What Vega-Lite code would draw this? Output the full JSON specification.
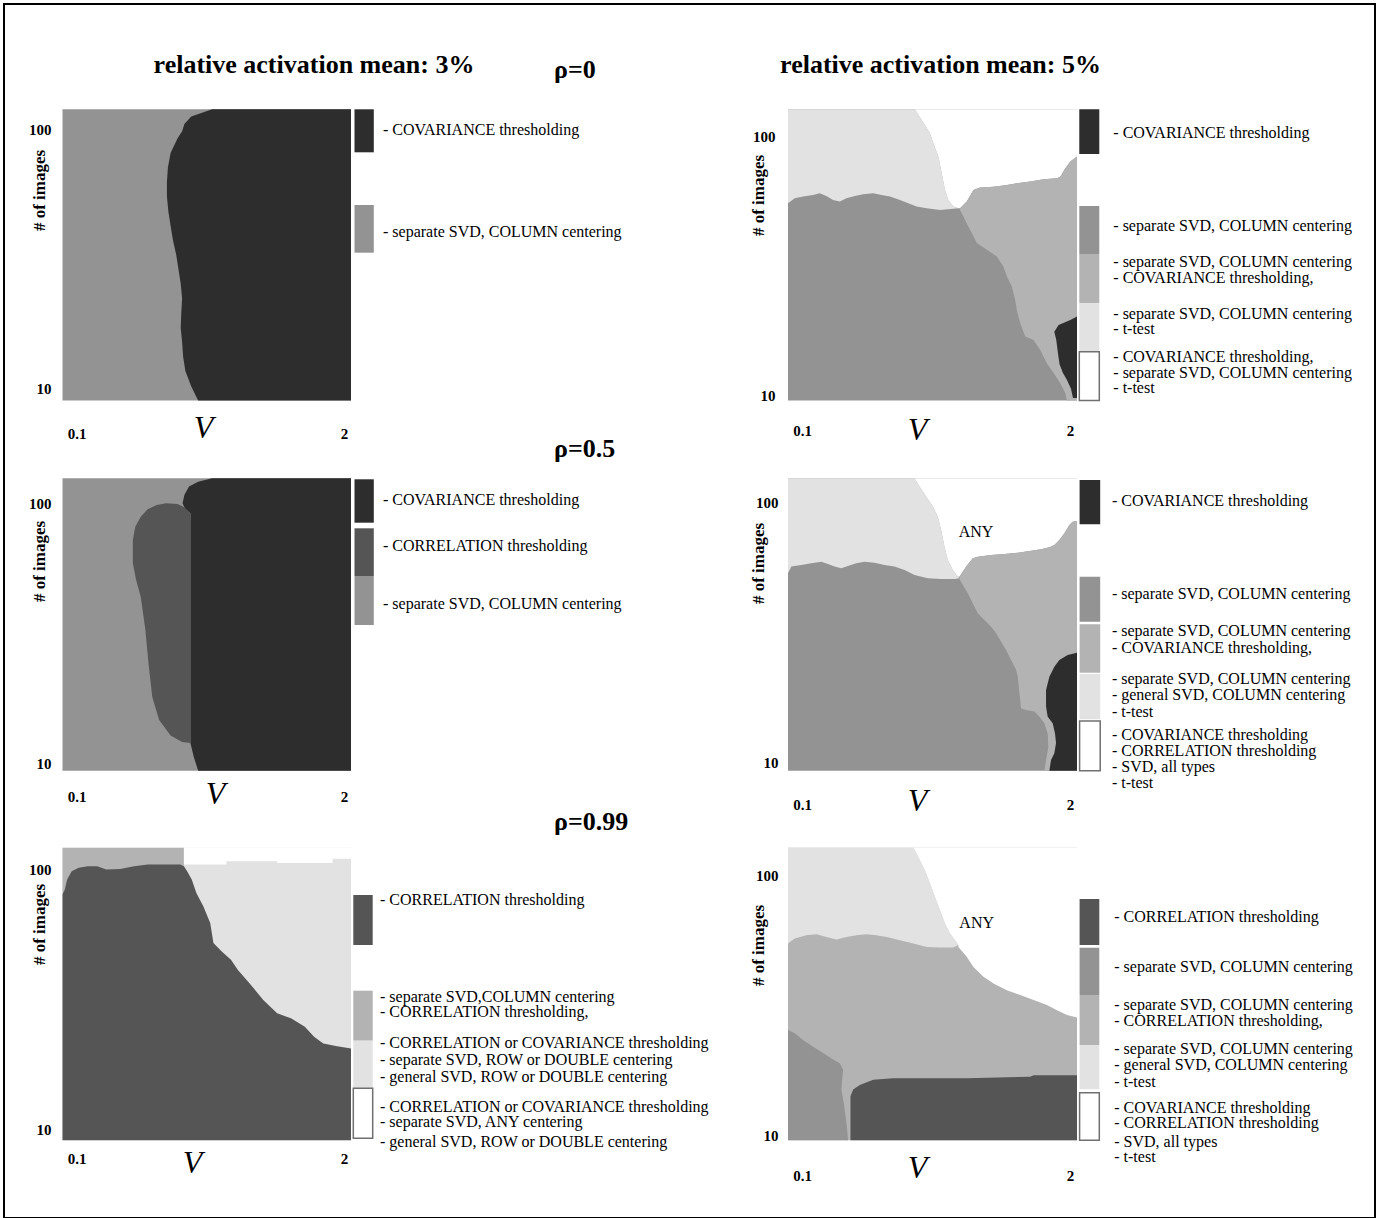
{
"$schema": "https://vega.github.io/schema/vega-lite/v6.json",
"width": 1371,
"height": 1214,
"autosize": {"type": "none"},
"padding": {"left": 4, "top": 4, "right": 15, "bottom": 0},
"background": "white",
"config": {"view": {"stroke": "#000000", "strokeWidth": 2}, "axis": {"zindex": 1}},
"datasets": {
"tl": [
{"p":"base","m":"SVD","i":0,"V":0,"n":120},{"p":"base","m":"SVD","i":1,"V":2.05,"n":120},{"p":"base","m":"SVD","i":2,"V":2.05,"n":9},{"p":"base","m":"SVD","i":3,"V":0,"n":9},
{"p":"cov","m":"COVARIANCE","i":0,"V":1.063,"n":120},{"p":"cov","m":"COVARIANCE","i":1,"V":0.915,"n":112.5},{"p":"cov","m":"COVARIANCE","i":2,"V":0.866,"n":105.4},{"p":"cov","m":"COVARIANCE","i":3,"V":0.85,"n":98.8},{"p":"cov","m":"COVARIANCE","i":4,"V":0.817,"n":92.6},{"p":"cov","m":"COVARIANCE","i":5,"V":0.768,"n":81.4},{"p":"cov","m":"COVARIANCE","i":6,"V":0.749,"n":71.5},{"p":"cov","m":"COVARIANCE","i":7,"V":0.742,"n":62.8},{"p":"cov","m":"COVARIANCE","i":8,"V":0.742,"n":55.2},{"p":"cov","m":"COVARIANCE","i":9,"V":0.752,"n":48.5},{"p":"cov","m":"COVARIANCE","i":10,"V":0.768,"n":42.6},{"p":"cov","m":"COVARIANCE","i":11,"V":0.785,"n":37.4},{"p":"cov","m":"COVARIANCE","i":12,"V":0.808,"n":32.9},{"p":"cov","m":"COVARIANCE","i":13,"V":0.824,"n":28.9},{"p":"cov","m":"COVARIANCE","i":14,"V":0.84,"n":25.4},{"p":"cov","m":"COVARIANCE","i":15,"V":0.85,"n":22.3},{"p":"cov","m":"COVARIANCE","i":16,"V":0.844,"n":19.6},{"p":"cov","m":"COVARIANCE","i":17,"V":0.84,"n":17.2},{"p":"cov","m":"COVARIANCE","i":18,"V":0.85,"n":15.1},{"p":"cov","m":"COVARIANCE","i":19,"V":0.857,"n":13.3},{"p":"cov","m":"COVARIANCE","i":20,"V":0.873,"n":11.7},{"p":"cov","m":"COVARIANCE","i":21,"V":0.915,"n":10.2},{"p":"cov","m":"COVARIANCE","i":22,"V":0.964,"n":9},{"p":"cov","m":"COVARIANCE","i":23,"V":2.05,"n":9},{"p":"cov","m":"COVARIANCE","i":24,"V":2.05,"n":120}
],
"ml": [
{"p":"base","m":"SVD","i":0,"V":0,"n":120},{"p":"base","m":"SVD","i":1,"V":2.05,"n":120},{"p":"base","m":"SVD","i":2,"V":2.05,"n":9},{"p":"base","m":"SVD","i":3,"V":0,"n":9},
{"p":"cov","m":"COVARIANCE","i":0,"V":1.063,"n":120},{"p":"cov","m":"COVARIANCE","i":1,"V":0.964,"n":116.5},{"p":"cov","m":"COVARIANCE","i":2,"V":0.899,"n":111.5},{"p":"cov","m":"COVARIANCE","i":3,"V":0.866,"n":103.5},{"p":"cov","m":"COVARIANCE","i":4,"V":0.853,"n":96.2},{"p":"cov","m":"COVARIANCE","i":5,"V":0.873,"n":91.2},{"p":"cov","m":"COVARIANCE","i":6,"V":0.909,"n":88},{"p":"cov","m":"COVARIANCE","i":7,"V":0.909,"n":11.5},{"p":"cov","m":"COVARIANCE","i":8,"V":0.932,"n":10.2},{"p":"cov","m":"COVARIANCE","i":9,"V":0.964,"n":9},{"p":"cov","m":"COVARIANCE","i":10,"V":2.05,"n":9},{"p":"cov","m":"COVARIANCE","i":11,"V":2.05,"n":120},
{"p":"corr","m":"CORRELATION","i":0,"V":0.736,"n":96.2},{"p":"corr","m":"CORRELATION","i":1,"V":0.67,"n":94.8},{"p":"corr","m":"CORRELATION","i":2,"V":0.605,"n":91.2},{"p":"corr","m":"CORRELATION","i":3,"V":0.556,"n":85.4},{"p":"corr","m":"CORRELATION","i":4,"V":0.517,"n":78.2},{"p":"corr","m":"CORRELATION","i":5,"V":0.5,"n":69.5},{"p":"corr","m":"CORRELATION","i":6,"V":0.5,"n":56.5},{"p":"corr","m":"CORRELATION","i":7,"V":0.523,"n":48.7},{"p":"corr","m":"CORRELATION","i":8,"V":0.556,"n":42},{"p":"corr","m":"CORRELATION","i":9,"V":0.589,"n":31.3},{"p":"corr","m":"CORRELATION","i":10,"V":0.611,"n":23.3},{"p":"corr","m":"CORRELATION","i":11,"V":0.638,"n":17.3},{"p":"corr","m":"CORRELATION","i":12,"V":0.687,"n":14.1},{"p":"corr","m":"CORRELATION","i":13,"V":0.768,"n":12.3},{"p":"corr","m":"CORRELATION","i":14,"V":0.85,"n":11.6},{"p":"corr","m":"CORRELATION","i":15,"V":0.909,"n":11.5},{"p":"corr","m":"CORRELATION","i":16,"V":0.909,"n":88},{"p":"corr","m":"CORRELATION","i":17,"V":0.866,"n":92.8},{"p":"corr","m":"CORRELATION","i":18,"V":0.817,"n":95.6}
],
"bl": [
{"p":"base","m":"three","i":0,"V":0,"n":120},{"p":"base","m":"three","i":1,"V":2.05,"n":120},{"p":"base","m":"three","i":2,"V":2.05,"n":9},{"p":"base","m":"three","i":3,"V":0,"n":9},
{"p":"two","m":"two","i":0,"V":0,"n":120},{"p":"two","m":"two","i":1,"V":0.8626,"n":120},{"p":"two","m":"two","i":2,"V":0.8626,"n":79},{"p":"two","m":"two","i":3,"V":0,"n":79},
{"p":"any","m":"any","i":0,"V":0.8626,"n":120},{"p":"any","m":"any","i":1,"V":2.05,"n":120},{"p":"any","m":"any","i":2,"V":2.05,"n":108.9},{"p":"any","m":"any","i":3,"V":1.9188,"n":108.9},{"p":"any","m":"any","i":4,"V":1.9188,"n":105},{"p":"any","m":"any","i":5,"V":1.5252,"n":105},{"p":"any","m":"any","i":6,"V":1.5252,"n":106.6},{"p":"any","m":"any","i":7,"V":1.1644,"n":106.6},{"p":"any","m":"any","i":8,"V":1.1644,"n":103.5},{"p":"any","m":"any","i":9,"V":0.8626,"n":103.5},
{"p":"corr","m":"CORRELATION","i":0,"V":0,"n":79.3},{"p":"corr","m":"CORRELATION","i":1,"V":0.0164,"n":82.9},{"p":"corr","m":"CORRELATION","i":2,"V":0.0328,"n":90.6},{"p":"corr","m":"CORRELATION","i":3,"V":0.0656,"n":97.5},{"p":"corr","m":"CORRELATION","i":4,"V":0.1148,"n":100.5},{"p":"corr","m":"CORRELATION","i":5,"V":0.1804,"n":102},{"p":"corr","m":"CORRELATION","i":6,"V":0.246,"n":102},{"p":"corr","m":"CORRELATION","i":7,"V":0.3116,"n":99},{"p":"corr","m":"CORRELATION","i":8,"V":0.41,"n":99.5},{"p":"corr","m":"CORRELATION","i":9,"V":0.5084,"n":102},{"p":"corr","m":"CORRELATION","i":10,"V":0.6068,"n":103.5},{"p":"corr","m":"CORRELATION","i":11,"V":0.8364,"n":103.5},{"p":"corr","m":"CORRELATION","i":12,"V":0.8626,"n":102},{"p":"corr","m":"CORRELATION","i":13,"V":0.8856,"n":97.5},{"p":"corr","m":"CORRELATION","i":14,"V":0.9184,"n":90.6},{"p":"corr","m":"CORRELATION","i":15,"V":0.9512,"n":80.5},{"p":"corr","m":"CORRELATION","i":16,"V":1.0004,"n":71.5},{"p":"corr","m":"CORRELATION","i":17,"V":1.0496,"n":61.6},{"p":"corr","m":"CORRELATION","i":18,"V":1.0726,"n":51.6},{"p":"corr","m":"CORRELATION","i":19,"V":1.1316,"n":47.9},{"p":"corr","m":"CORRELATION","i":20,"V":1.1972,"n":44.5},{"p":"corr","m":"CORRELATION","i":21,"V":1.2464,"n":40.7},{"p":"corr","m":"CORRELATION","i":22,"V":1.3284,"n":36.2},{"p":"corr","m":"CORRELATION","i":23,"V":1.4268,"n":31.2},{"p":"corr","m":"CORRELATION","i":24,"V":1.5252,"n":27.7},{"p":"corr","m":"CORRELATION","i":25,"V":1.6236,"n":26.5},{"p":"corr","m":"CORRELATION","i":26,"V":1.722,"n":24.6},{"p":"corr","m":"CORRELATION","i":27,"V":1.7876,"n":22.5},{"p":"corr","m":"CORRELATION","i":28,"V":1.8532,"n":21.2},{"p":"corr","m":"CORRELATION","i":29,"V":1.9516,"n":20.7},{"p":"corr","m":"CORRELATION","i":30,"V":2.05,"n":20.3},{"p":"corr","m":"CORRELATION","i":31,"V":2.05,"n":9},{"p":"corr","m":"CORRELATION","i":32,"V":0,"n":9}
],
"tr": [
{"p":"base","m":"SVD","i":0,"V":0,"n":120},{"p":"base","m":"SVD","i":1,"V":2.05,"n":120},{"p":"base","m":"SVD","i":2,"V":2.05,"n":9},{"p":"base","m":"SVD","i":3,"V":0,"n":9},
{"p":"three","m":"three","i":0,"V":0,"n":120},{"p":"three","m":"three","i":1,"V":0.9006,"n":120},{"p":"three","m":"three","i":2,"V":0.948,"n":109.1},{"p":"three","m":"three","i":3,"V":1.0072,"n":96.9},{"p":"three","m":"three","i":4,"V":1.0309,"n":88.7},{"p":"three","m":"three","i":5,"V":1.0665,"n":78.8},{"p":"three","m":"three","i":6,"V":1.0902,"n":67.9},{"p":"three","m":"three","i":7,"V":1.1139,"n":58.6},{"p":"three","m":"three","i":8,"V":1.1376,"n":53.6},{"p":"three","m":"three","i":9,"V":1.1731,"n":50.5},{"p":"three","m":"three","i":10,"V":1.2086,"n":49.8},{"p":"three","m":"three","i":11,"V":1.0783,"n":49},{"p":"three","m":"three","i":12,"V":0.9835,"n":49.8},{"p":"three","m":"three","i":13,"V":0.9124,"n":50.5},{"p":"three","m":"three","i":14,"V":0.8532,"n":52},{"p":"three","m":"three","i":15,"V":0.7939,"n":53.6},{"p":"three","m":"three","i":16,"V":0.7228,"n":55.2},{"p":"three","m":"three","i":17,"V":0.6636,"n":56},{"p":"three","m":"three","i":18,"V":0.6043,"n":56.9},{"p":"three","m":"three","i":19,"V":0.5332,"n":56.4},{"p":"three","m":"three","i":20,"V":0.474,"n":55.5},{"p":"three","m":"three","i":21,"V":0.4147,"n":54.4},{"p":"three","m":"three","i":22,"V":0.3673,"n":52.8},{"p":"three","m":"three","i":23,"V":0.3199,"n":53.6},{"p":"three","m":"three","i":24,"V":0.2725,"n":55.5},{"p":"three","m":"three","i":25,"V":0.2251,"n":56.9},{"p":"three","m":"three","i":26,"V":0.1777,"n":56},{"p":"three","m":"three","i":27,"V":0.1066,"n":55.2},{"p":"three","m":"three","i":28,"V":0.0474,"n":54.4},{"p":"three","m":"three","i":29,"V":0,"n":52},
{"p":"any","m":"any","i":0,"V":0.9006,"n":120},{"p":"any","m":"any","i":1,"V":0.948,"n":109.1},{"p":"any","m":"any","i":2,"V":1.0072,"n":96.9},{"p":"any","m":"any","i":3,"V":1.0309,"n":88.7},{"p":"any","m":"any","i":4,"V":1.0665,"n":78.8},{"p":"any","m":"any","i":5,"V":1.0902,"n":67.9},{"p":"any","m":"any","i":6,"V":1.1139,"n":58.6},{"p":"any","m":"any","i":7,"V":1.1376,"n":53.6},{"p":"any","m":"any","i":8,"V":1.1731,"n":50.5},{"p":"any","m":"any","i":9,"V":1.2086,"n":49.8},{"p":"any","m":"any","i":10,"V":1.2205,"n":49.8},{"p":"any","m":"any","i":11,"V":1.2679,"n":52.8},{"p":"any","m":"any","i":12,"V":1.3153,"n":58.6},{"p":"any","m":"any","i":13,"V":1.3627,"n":59.8},{"p":"any","m":"any","i":14,"V":1.4575,"n":60.3},{"p":"any","m":"any","i":15,"V":1.5523,"n":61.2},{"p":"any","m":"any","i":16,"V":1.6234,"n":62.2},{"p":"any","m":"any","i":17,"V":1.7182,"n":63.1},{"p":"any","m":"any","i":18,"V":1.813,"n":64.4},{"p":"any","m":"any","i":19,"V":1.9078,"n":65},{"p":"any","m":"any","i":20,"V":1.9315,"n":65.9},{"p":"any","m":"any","i":21,"V":1.967,"n":71},{"p":"any","m":"any","i":22,"V":2.0026,"n":75.4},{"p":"any","m":"any","i":23,"V":2.05,"n":78.8},{"p":"any","m":"any","i":24,"V":2.05,"n":120},
{"p":"two","m":"two","i":0,"V":1.2205,"n":49.8},{"p":"two","m":"two","i":1,"V":1.2679,"n":52.8},{"p":"two","m":"two","i":2,"V":1.3153,"n":58.6},{"p":"two","m":"two","i":3,"V":1.3627,"n":59.8},{"p":"two","m":"two","i":4,"V":1.4575,"n":60.3},{"p":"two","m":"two","i":5,"V":1.5523,"n":61.2},{"p":"two","m":"two","i":6,"V":1.6234,"n":62.2},{"p":"two","m":"two","i":7,"V":1.7182,"n":63.1},{"p":"two","m":"two","i":8,"V":1.813,"n":64.4},{"p":"two","m":"two","i":9,"V":1.9078,"n":65},{"p":"two","m":"two","i":10,"V":1.9315,"n":65.9},{"p":"two","m":"two","i":11,"V":1.967,"n":71},{"p":"two","m":"two","i":12,"V":2.0026,"n":75.4},{"p":"two","m":"two","i":13,"V":2.05,"n":78.8},{"p":"two","m":"two","i":14,"V":2.05,"n":9},{"p":"two","m":"two","i":15,"V":1.9789,"n":9},{"p":"two","m":"two","i":16,"V":1.967,"n":9.6},{"p":"two","m":"two","i":17,"V":1.9315,"n":10.5},{"p":"two","m":"two","i":18,"V":1.8841,"n":11.5},{"p":"two","m":"two","i":19,"V":1.8367,"n":12.5},{"p":"two","m":"two","i":20,"V":1.7893,"n":14.1},{"p":"two","m":"two","i":21,"V":1.7419,"n":15.4},{"p":"two","m":"two","i":22,"V":1.6826,"n":15.9},{"p":"two","m":"two","i":23,"V":1.6471,"n":17.9},{"p":"two","m":"two","i":24,"V":1.6234,"n":20.1},{"p":"two","m":"two","i":25,"V":1.6115,"n":22},{"p":"two","m":"two","i":26,"V":1.5878,"n":24.8},{"p":"two","m":"two","i":27,"V":1.5523,"n":27.1},{"p":"two","m":"two","i":28,"V":1.5286,"n":29.6},{"p":"two","m":"two","i":29,"V":1.4812,"n":32.4},{"p":"two","m":"two","i":30,"V":1.4101,"n":34.4},{"p":"two","m":"two","i":31,"V":1.339,"n":36.5},{"p":"two","m":"two","i":32,"V":1.3034,"n":39.9},{"p":"two","m":"two","i":33,"V":1.2679,"n":43.5},{"p":"two","m":"two","i":34,"V":1.2442,"n":46.2},{"p":"two","m":"two","i":35,"V":1.2205,"n":49},
{"p":"cov","m":"COVARIANCE","i":0,"V":2.0026,"n":18.4},{"p":"cov","m":"COVARIANCE","i":1,"V":2.05,"n":19},{"p":"cov","m":"COVARIANCE","i":2,"V":2.05,"n":9.2},{"p":"cov","m":"COVARIANCE","i":3,"V":2.0216,"n":9.2},{"p":"cov","m":"COVARIANCE","i":4,"V":2.0073,"n":10},{"p":"cov","m":"COVARIANCE","i":5,"V":1.9789,"n":10.8},{"p":"cov","m":"COVARIANCE","i":6,"V":1.9504,"n":11.5},{"p":"cov","m":"COVARIANCE","i":7,"V":1.9267,"n":12.4},{"p":"cov","m":"COVARIANCE","i":8,"V":1.9149,"n":13.7},{"p":"cov","m":"COVARIANCE","i":9,"V":1.903,"n":15.4},{"p":"cov","m":"COVARIANCE","i":10,"V":1.8888,"n":16.6},{"p":"cov","m":"COVARIANCE","i":11,"V":1.9196,"n":17.6}
],
"mr": [
{"p":"base","m":"SVD","i":0,"V":0,"n":120},{"p":"base","m":"SVD","i":1,"V":2.05,"n":120},{"p":"base","m":"SVD","i":2,"V":2.05,"n":9},{"p":"base","m":"SVD","i":3,"V":0,"n":9},
{"p":"three","m":"three","i":0,"V":0,"n":120},{"p":"three","m":"three","i":1,"V":0.8975,"n":120},{"p":"three","m":"three","i":2,"V":0.9329,"n":111.5},{"p":"three","m":"three","i":3,"V":0.9801,"n":102},{"p":"three","m":"three","i":4,"V":1.0274,"n":93.4},{"p":"three","m":"three","i":5,"V":1.0628,"n":85.4},{"p":"three","m":"three","i":6,"V":1.0864,"n":75.9},{"p":"three","m":"three","i":7,"V":1.11,"n":65.5},{"p":"three","m":"three","i":8,"V":1.1337,"n":58.2},{"p":"three","m":"three","i":9,"V":1.1691,"n":53.3},{"p":"three","m":"three","i":10,"V":1.2045,"n":50.2},{"p":"three","m":"three","i":11,"V":1.2163,"n":49.5},{"p":"three","m":"three","i":12,"V":1.1809,"n":49.2},{"p":"three","m":"three","i":13,"V":1.0864,"n":49.2},{"p":"three","m":"three","i":14,"V":0.992,"n":49.5},{"p":"three","m":"three","i":15,"V":0.8975,"n":51},{"p":"three","m":"three","i":16,"V":0.8266,"n":53.3},{"p":"three","m":"three","i":17,"V":0.7558,"n":54.9},{"p":"three","m":"three","i":18,"V":0.6849,"n":55.7},{"p":"three","m":"three","i":19,"V":0.6141,"n":56.8},{"p":"three","m":"three","i":20,"V":0.5432,"n":57.3},{"p":"three","m":"three","i":21,"V":0.4842,"n":56.5},{"p":"three","m":"three","i":22,"V":0.4251,"n":55.2},{"p":"three","m":"three","i":23,"V":0.3779,"n":54.1},{"p":"three","m":"three","i":24,"V":0.3307,"n":54.9},{"p":"three","m":"three","i":25,"V":0.2834,"n":56.2},{"p":"three","m":"three","i":26,"V":0.2362,"n":57.3},{"p":"three","m":"three","i":27,"V":0.1653,"n":56.5},{"p":"three","m":"three","i":28,"V":0.0945,"n":55.7},{"p":"three","m":"three","i":29,"V":0.0236,"n":54.9},{"p":"three","m":"three","i":30,"V":0,"n":51.7},
{"p":"any","m":"any","i":0,"V":0.8975,"n":120},{"p":"any","m":"any","i":1,"V":0.9329,"n":111.5},{"p":"any","m":"any","i":2,"V":0.9801,"n":102},{"p":"any","m":"any","i":3,"V":1.0274,"n":93.4},{"p":"any","m":"any","i":4,"V":1.0628,"n":85.4},{"p":"any","m":"any","i":5,"V":1.0864,"n":75.9},{"p":"any","m":"any","i":6,"V":1.11,"n":65.5},{"p":"any","m":"any","i":7,"V":1.1337,"n":58.2},{"p":"any","m":"any","i":8,"V":1.1691,"n":53.3},{"p":"any","m":"any","i":9,"V":1.2045,"n":50.2},{"p":"any","m":"any","i":10,"V":1.2163,"n":50.2},{"p":"any","m":"any","i":11,"V":1.2636,"n":54.9},{"p":"any","m":"any","i":12,"V":1.3108,"n":59.1},{"p":"any","m":"any","i":13,"V":1.3462,"n":59.9},{"p":"any","m":"any","i":14,"V":1.4407,"n":60.8},{"p":"any","m":"any","i":15,"V":1.5352,"n":61.4},{"p":"any","m":"any","i":16,"V":1.6296,"n":62.1},{"p":"any","m":"any","i":17,"V":1.7241,"n":63.2},{"p":"any","m":"any","i":18,"V":1.795,"n":64},{"p":"any","m":"any","i":19,"V":1.854,"n":65.1},{"p":"any","m":"any","i":20,"V":1.8894,"n":66.5},{"p":"any","m":"any","i":21,"V":1.9249,"n":69.5},{"p":"any","m":"any","i":22,"V":1.9603,"n":73.7},{"p":"any","m":"any","i":23,"V":1.9957,"n":79.4},{"p":"any","m":"any","i":24,"V":2.0193,"n":81.7},{"p":"any","m":"any","i":25,"V":2.05,"n":82.2},{"p":"any","m":"any","i":26,"V":2.05,"n":120},
{"p":"two","m":"two","i":0,"V":1.2163,"n":50.2},{"p":"two","m":"two","i":1,"V":1.2636,"n":54.9},{"p":"two","m":"two","i":2,"V":1.3108,"n":59.1},{"p":"two","m":"two","i":3,"V":1.3462,"n":59.9},{"p":"two","m":"two","i":4,"V":1.4407,"n":60.8},{"p":"two","m":"two","i":5,"V":1.5352,"n":61.4},{"p":"two","m":"two","i":6,"V":1.6296,"n":62.1},{"p":"two","m":"two","i":7,"V":1.7241,"n":63.2},{"p":"two","m":"two","i":8,"V":1.795,"n":64},{"p":"two","m":"two","i":9,"V":1.854,"n":65.1},{"p":"two","m":"two","i":10,"V":1.8894,"n":66.5},{"p":"two","m":"two","i":11,"V":1.9249,"n":69.5},{"p":"two","m":"two","i":12,"V":1.9603,"n":73.7},{"p":"two","m":"two","i":13,"V":1.9957,"n":79.4},{"p":"two","m":"two","i":14,"V":2.0193,"n":81.7},{"p":"two","m":"two","i":15,"V":2.05,"n":82.2},{"p":"two","m":"two","i":16,"V":2.05,"n":9},{"p":"two","m":"two","i":17,"V":1.8186,"n":9},{"p":"two","m":"two","i":18,"V":1.8304,"n":9.9},{"p":"two","m":"two","i":19,"V":1.8469,"n":11.1},{"p":"two","m":"two","i":20,"V":1.8422,"n":12.5},{"p":"two","m":"two","i":21,"V":1.8186,"n":13.7},{"p":"two","m":"two","i":22,"V":1.7832,"n":14.5},{"p":"two","m":"two","i":23,"V":1.7477,"n":15.2},{"p":"two","m":"two","i":24,"V":1.6887,"n":15.4},{"p":"two","m":"two","i":25,"V":1.6533,"n":15.6},{"p":"two","m":"two","i":26,"V":1.6415,"n":17.9},{"p":"two","m":"two","i":27,"V":1.6296,"n":20.7},{"p":"two","m":"two","i":28,"V":1.6178,"n":22},{"p":"two","m":"two","i":29,"V":1.5824,"n":24},{"p":"two","m":"two","i":30,"V":1.547,"n":26.2},{"p":"two","m":"two","i":31,"V":1.5116,"n":28.2},{"p":"two","m":"two","i":32,"V":1.4761,"n":30.4},{"p":"two","m":"two","i":33,"V":1.4407,"n":32.2},{"p":"two","m":"two","i":34,"V":1.3935,"n":34.2},{"p":"two","m":"two","i":35,"V":1.3462,"n":36.3},{"p":"two","m":"two","i":36,"V":1.3108,"n":39.6},{"p":"two","m":"two","i":37,"V":1.2754,"n":43.3},{"p":"two","m":"two","i":38,"V":1.2399,"n":46.6},{"p":"two","m":"two","i":39,"V":1.2163,"n":49.2},
{"p":"cov","m":"COVARIANCE","i":0,"V":2.05,"n":25.6},{"p":"cov","m":"COVARIANCE","i":1,"V":1.9839,"n":25.1},{"p":"cov","m":"COVARIANCE","i":2,"V":1.9249,"n":24},{"p":"cov","m":"COVARIANCE","i":3,"V":1.8894,"n":22.6},{"p":"cov","m":"COVARIANCE","i":4,"V":1.854,"n":20.7},{"p":"cov","m":"COVARIANCE","i":5,"V":1.8304,"n":18.4},{"p":"cov","m":"COVARIANCE","i":6,"V":1.8304,"n":15.9},{"p":"cov","m":"COVARIANCE","i":7,"V":1.8422,"n":14.5},{"p":"cov","m":"COVARIANCE","i":8,"V":1.8776,"n":13.7},{"p":"cov","m":"COVARIANCE","i":9,"V":1.8941,"n":12.5},{"p":"cov","m":"COVARIANCE","i":10,"V":1.9012,"n":11.5},{"p":"cov","m":"COVARIANCE","i":11,"V":1.8894,"n":10.5},{"p":"cov","m":"COVARIANCE","i":12,"V":1.8658,"n":9.9},{"p":"cov","m":"COVARIANCE","i":13,"V":1.854,"n":9},{"p":"cov","m":"COVARIANCE","i":14,"V":2.05,"n":9}
],
"br": [
{"p":"base","m":"two","i":0,"V":0,"n":120},{"p":"base","m":"two","i":1,"V":2.05,"n":120},{"p":"base","m":"two","i":2,"V":2.05,"n":9},{"p":"base","m":"two","i":3,"V":0,"n":9},
{"p":"three","m":"three","i":0,"V":0,"n":120},{"p":"three","m":"three","i":1,"V":0.8887,"n":120},{"p":"three","m":"three","i":2,"V":0.9243,"n":110.5},{"p":"three","m":"three","i":3,"V":0.9717,"n":98.2},{"p":"three","m":"three","i":4,"V":1.0072,"n":87.4},{"p":"three","m":"three","i":5,"V":1.0428,"n":77.6},{"p":"three","m":"three","i":6,"V":1.0783,"n":69},{"p":"three","m":"three","i":7,"V":1.1139,"n":61.3},{"p":"three","m":"three","i":8,"V":1.1494,"n":56.2},{"p":"three","m":"three","i":9,"V":1.185,"n":52.9},{"p":"three","m":"three","i":10,"V":1.2086,"n":50.7},{"p":"three","m":"three","i":11,"V":1.1731,"n":49.6},{"p":"three","m":"three","i":12,"V":1.0783,"n":49.6},{"p":"three","m":"three","i":13,"V":0.9835,"n":49.9},{"p":"three","m":"three","i":14,"V":0.8887,"n":51.4},{"p":"three","m":"three","i":15,"V":0.7939,"n":52.9},{"p":"three","m":"three","i":16,"V":0.6991,"n":54.5},{"p":"three","m":"three","i":17,"V":0.628,"n":55.3},{"p":"three","m":"three","i":18,"V":0.5569,"n":55.8},{"p":"three","m":"three","i":19,"V":0.4858,"n":55.3},{"p":"three","m":"three","i":20,"V":0.4147,"n":54.5},{"p":"three","m":"three","i":21,"V":0.3436,"n":53.3},{"p":"three","m":"three","i":22,"V":0.2725,"n":54.5},{"p":"three","m":"three","i":23,"V":0.2014,"n":55.8},{"p":"three","m":"three","i":24,"V":0.1303,"n":55.3},{"p":"three","m":"three","i":25,"V":0.0474,"n":53.7},{"p":"three","m":"three","i":26,"V":0,"n":51.4},
{"p":"any","m":"any","i":0,"V":0.8887,"n":120},{"p":"any","m":"any","i":1,"V":0.9243,"n":110.5},{"p":"any","m":"any","i":2,"V":0.9717,"n":98.2},{"p":"any","m":"any","i":3,"V":1.0072,"n":87.4},{"p":"any","m":"any","i":4,"V":1.0428,"n":77.6},{"p":"any","m":"any","i":5,"V":1.0783,"n":69},{"p":"any","m":"any","i":6,"V":1.1139,"n":61.3},{"p":"any","m":"any","i":7,"V":1.1494,"n":56.2},{"p":"any","m":"any","i":8,"V":1.185,"n":52.9},{"p":"any","m":"any","i":9,"V":1.2086,"n":50.7},{"p":"any","m":"any","i":10,"V":1.2086,"n":49.9},{"p":"any","m":"any","i":11,"V":1.2679,"n":45.7},{"p":"any","m":"any","i":12,"V":1.3153,"n":41.8},{"p":"any","m":"any","i":13,"V":1.3864,"n":38.3},{"p":"any","m":"any","i":14,"V":1.4575,"n":36.1},{"p":"any","m":"any","i":15,"V":1.5523,"n":34},{"p":"any","m":"any","i":16,"V":1.6471,"n":32.6},{"p":"any","m":"any","i":17,"V":1.7419,"n":31.2},{"p":"any","m":"any","i":18,"V":1.8367,"n":29.8},{"p":"any","m":"any","i":19,"V":1.9078,"n":28.5},{"p":"any","m":"any","i":20,"V":1.9789,"n":27.3},{"p":"any","m":"any","i":21,"V":2.05,"n":26.7},{"p":"any","m":"any","i":22,"V":2.05,"n":120},
{"p":"svd","m":"SVD","i":0,"V":0,"n":23.9},{"p":"svd","m":"SVD","i":1,"V":0.0474,"n":23.2},{"p":"svd","m":"SVD","i":2,"V":0.1066,"n":21.9},{"p":"svd","m":"SVD","i":3,"V":0.1777,"n":20.6},{"p":"svd","m":"SVD","i":4,"V":0.2488,"n":19.5},{"p":"svd","m":"SVD","i":5,"V":0.3199,"n":18.4},{"p":"svd","m":"SVD","i":6,"V":0.3673,"n":17.8},{"p":"svd","m":"SVD","i":7,"V":0.391,"n":16.8},{"p":"svd","m":"SVD","i":8,"V":0.3863,"n":15.8},{"p":"svd","m":"SVD","i":9,"V":0.3792,"n":14.1},{"p":"svd","m":"SVD","i":10,"V":0.3958,"n":12.5},{"p":"svd","m":"SVD","i":11,"V":0.4147,"n":10.5},{"p":"svd","m":"SVD","i":12,"V":0.4266,"n":9},{"p":"svd","m":"SVD","i":13,"V":0,"n":9},
{"p":"corr","m":"CORRELATION","i":0,"V":0.4432,"n":9},{"p":"corr","m":"CORRELATION","i":1,"V":0.4432,"n":13.3},{"p":"corr","m":"CORRELATION","i":2,"V":0.4621,"n":14.1},{"p":"corr","m":"CORRELATION","i":3,"V":0.5095,"n":14.7},{"p":"corr","m":"CORRELATION","i":4,"V":0.6043,"n":15.4},{"p":"corr","m":"CORRELATION","i":5,"V":0.7465,"n":15.6},{"p":"corr","m":"CORRELATION","i":6,"V":1.2679,"n":15.6},{"p":"corr","m":"CORRELATION","i":7,"V":1.7182,"n":15.8},{"p":"corr","m":"CORRELATION","i":8,"V":1.7419,"n":16},{"p":"corr","m":"CORRELATION","i":9,"V":2.05,"n":16},{"p":"corr","m":"CORRELATION","i":10,"V":2.05,"n":9}
],
"sw": [
{"g":"tl","m":"COVARIANCE","f0":0,"f1":0.1477},{"g":"tl","m":"SVD","f0":0.3286,"f1":0.4924},
{"g":"tr","m":"COVARIANCE","f0":0,"f1":0.1535},{"g":"tr","m":"SVD","f0":0.3321,"f1":0.4969},{"g":"tr","m":"two","f0":0.4969,"f1":0.6662},{"g":"tr","m":"three","f0":0.6662,"f1":0.8324},{"g":"tr","m":"any","f0":0.8324,"f1":1.0},
{"g":"ml","m":"COVARIANCE","f0":0.0034,"f1":0.1518},{"g":"ml","m":"CORRELATION","f0":0.171,"f1":0.3341},{"g":"ml","m":"SVD","f0":0.3341,"f1":0.5017},
{"g":"mr","m":"COVARIANCE","f0":0.0058,"f1":0.1573},{"g":"mr","m":"SVD","f0":0.3365,"f1":0.4904},{"g":"mr","m":"two","f0":0.4993,"f1":0.6648},{"g":"mr","m":"three","f0":0.6693,"f1":0.8242},{"g":"mr","m":"any","f0":0.83,"f1":1.0},
{"g":"bl","m":"CORRELATION","f0":0.1614,"f1":0.3323},{"g":"bl","m":"two","f0":0.4885,"f1":0.6595},{"g":"bl","m":"three","f0":0.6595,"f1":0.8222},{"g":"bl","m":"any","f0":0.8222,"f1":0.9932},
{"g":"br","m":"CORRELATION","f0":0.175,"f1":0.3323},{"g":"br","m":"SVD","f0":0.3415,"f1":0.5032},{"g":"br","m":"two","f0":0.5032,"f1":0.6742},{"g":"br","m":"three","f0":0.6742,"f1":0.8256},{"g":"br","m":"any","f0":0.8373,"f1":1.0}
],
"tx": [
{"g":"tl","pos":0.0711,"label":"-  COVARIANCE thresholding"},
{"g":"tl","pos":0.4203,"label":"-  separate SVD, COLUMN centering"},
{"g":"tr","pos":0.0824,"label":"- COVARIANCE  thresholding"},
{"g":"tr","pos":0.3997,"label":"-  separate SVD, COLUMN centering"},
{"g":"tr","pos":0.5254,"label":"-  separate SVD, COLUMN centering"},
{"g":"tr","pos":0.5804,"label":"- COVARIANCE thresholding,"},
{"g":"tr","pos":0.703,"label":"- separate SVD, COLUMN centering"},
{"g":"tr","pos":0.7555,"label":"- t-test"},
{"g":"tr","pos":0.8496,"label":"- COVARIANCE thresholding,"},
{"g":"tr","pos":0.9045,"label":"- separate SVD, COLUMN centering"},
{"g":"tr","pos":0.956,"label":"- t-test"},
{"g":"ml","pos":0.0742,"label":"-  COVARIANCE  thresholding"},
{"g":"ml","pos":0.2315,"label":"-  CORRELATION thresholding"},
{"g":"ml","pos":0.4299,"label":"-  separate SVD, COLUMN centering"},
{"g":"mr","pos":0.0776,"label":"- COVARIANCE  thresholding"},
{"g":"mr","pos":0.3967,"label":"- separate SVD, COLUMN centering"},
{"g":"mr","pos":0.5233,"label":"-  separate SVD, COLUMN centering"},
{"g":"mr","pos":0.5804,"label":"- COVARIANCE  thresholding,"},
{"g":"mr","pos":0.6864,"label":"-  separate SVD, COLUMN centering"},
{"g":"mr","pos":0.7421,"label":"- general SVD, COLUMN centering"},
{"g":"mr","pos":0.7982,"label":"- t-test"},
{"g":"mr","pos":0.8779,"label":"- COVARIANCE thresholding"},
{"g":"mr","pos":0.9326,"label":"- CORRELATION thresholding"},
{"g":"mr","pos":0.9884,"label":"- SVD, all  types"},
{"g":"mr","pos":1.0431,"label":"- t-test"},
{"g":"bl","pos":0.1785,"label":"-  CORRELATION thresholding"},
{"g":"bl","pos":0.5091,"label":"-  separate SVD,COLUMN centering"},
{"g":"bl","pos":0.5603,"label":"- CORRELATION thresholding,"},
{"g":"bl","pos":0.6684,"label":"-  CORRELATION or COVARIANCE thresholding"},
{"g":"bl","pos":0.7255,"label":"-  separate SVD, ROW or DOUBLE centering"},
{"g":"bl","pos":0.7826,"label":"-  general SVD, ROW or DOUBLE centering"},
{"g":"bl","pos":0.8851,"label":"- CORRELATION or COVARIANCE thresholding"},
{"g":"bl","pos":0.9385,"label":"- separate SVD, ANY centering"},
{"g":"bl","pos":1.0048,"label":"- general SVD, ROW or DOUBLE centering"},
{"g":"br","pos":0.2376,"label":"- CORRELATION thresholding"},
{"g":"br","pos":0.4065,"label":"-  separate SVD, COLUMN centering"},
{"g":"br","pos":0.5374,"label":"- separate SVD, COLUMN centering"},
{"g":"br","pos":0.5921,"label":"- CORRELATION  thresholding,"},
{"g":"br","pos":0.6889,"label":"-  separate SVD, COLUMN centering"},
{"g":"br","pos":0.7436,"label":"- general SVD, COLUMN centering"},
{"g":"br","pos":0.7997,"label":"- t-test"},
{"g":"br","pos":0.8906,"label":"- COVARIANCE  thresholding"},
{"g":"br","pos":0.9419,"label":"- CORRELATION  thresholding"},
{"g":"br","pos":1.0048,"label":"- SVD, all  types"},
{"g":"br","pos":1.0581,"label":"- t-test"}
]
},
"resolve": {"scale": {"x": "independent", "y": "independent"}, "axis": {"x": "independent", "y": "independent"}},
"layer": [
{
"data": {"name": "tl"},
"encoding": {
"x": {"field": "V", "type": "quantitative", "scale": {"domain": [0, 2.05], "range": [58.5, 347], "nice": false, "zero": false},
"axis": {"orient": "bottom", "offset": -817.5, "values": [0.1, 2], "format": "~g", "domain": false, "ticks": false, "grid": false, "labelFont": "Liberation Serif", "labelFontWeight": "bold", "labelFontSize": 15, "labelColor": "#000", "labelPadding": 32.5, "labelBaseline": "middle", "labelFlush": false, "labelOverlap": false, "title": "V", "titleFont": "Liberation Serif", "titleFontStyle": "italic", "titleFontWeight": "normal", "titleFontSize": 32, "titleColor": "#000", "titleX": 199, "titleY": 26.5, "titleAlign": "center", "titleBaseline": "middle"}},
"y": {"field": "n", "type": "quantitative", "scale": {"type": "log", "domain": [9, 120], "range": [396.5, 105.3], "nice": false},
"axis": {"orient": "left", "offset": -58.5, "values": [10, 100], "format": "~g", "domain": false, "ticks": false, "grid": false, "labelFont": "Liberation Serif", "labelFontWeight": "bold", "labelFontSize": 15, "labelColor": "#000", "labelPadding": 11.5, "labelOffset": 0, "labelFlush": false, "labelOverlap": false, "title": "# of images", "titleFont": "Liberation Serif", "titleFontWeight": "bold", "titleFontSize": 17, "titleColor": "#000", "titleX": -23.5, "titleY": 186, "titleAngle": -90, "titleAlign": "center", "titleBaseline": "middle"}}
},
"layer": [
{"transform": [{"filter": "datum.p === 'base'"}], "mark": {"type": "line", "filled": true}, "encoding": {"color": {"field": "m", "type": "nominal", "scale": {"domain": ["COVARIANCE","CORRELATION","SVD","two","three","any"], "range": ["#2d2d2d","#555555","#939393","#b3b3b3","#e2e2e2","#ffffff"]}, "legend": null}, "order": {"field": "i", "type": "quantitative"}}},
{"transform": [{"filter": "datum.p === 'cov'"}], "mark": {"type": "line", "filled": true}, "encoding": {"color": {"field": "m", "type": "nominal", "scale": {"domain": ["COVARIANCE","CORRELATION","SVD","two","three","any"], "range": ["#2d2d2d","#555555","#939393","#b3b3b3","#e2e2e2","#ffffff"]}, "legend": null}, "order": {"field": "i", "type": "quantitative"}}},
{"data": {"values": [{"t": "relative activation mean: 3%", "V": 1.787, "n": 165.7}]}, "mark": {"type": "text", "font": "Liberation Serif", "fontWeight": "bold", "fontSize": 26, "align": "center", "baseline": "alphabetic", "color": "#000"}, "encoding": {"text": {"field": "t", "type": "nominal"}}},
{"data": {"values": [{"t": "ρ=0", "V": 3.4925, "n": 158.5}]}, "mark": {"type": "text", "font": "Liberation Serif", "fontWeight": "bold", "fontSize": 26, "align": "left", "baseline": "alphabetic", "color": "#000"}, "encoding": {"text": {"field": "t", "type": "nominal"}}}
]
},
{
"data": {"name": "tr"},
"encoding": {
"x": {"field": "V", "type": "quantitative", "scale": {"domain": [0, 2.05], "range": [784, 1073], "nice": false, "zero": false},
"axis": {"orient": "bottom", "offset": -817.5, "values": [0.1, 2], "format": "~g", "domain": false, "ticks": false, "grid": false, "labelFont": "Liberation Serif", "labelFontWeight": "bold", "labelFontSize": 15, "labelColor": "#000", "labelPadding": 30, "labelBaseline": "middle", "labelFlush": false, "labelOverlap": false, "title": "V", "titleFont": "Liberation Serif", "titleFontStyle": "italic", "titleFontWeight": "normal", "titleFontSize": 32, "titleColor": "#000", "titleX": 913, "titleY": 29.3, "titleAlign": "center", "titleBaseline": "middle"}},
"y": {"field": "n", "type": "quantitative", "scale": {"type": "log", "domain": [9, 120], "range": [396.5, 105.3], "nice": false},
"axis": {"orient": "left", "offset": -784, "values": [10, 100], "format": "~g", "domain": false, "ticks": false, "grid": false, "labelFont": "Liberation Serif", "labelFontWeight": "bold", "labelFontSize": 15, "labelColor": "#000", "labelPadding": 13, "labelOffset": 6.5, "labelFlush": false, "labelOverlap": false, "title": "# of images", "titleFont": "Liberation Serif", "titleFontWeight": "bold", "titleFontSize": 17, "titleColor": "#000", "titleX": -30, "titleY": 191, "titleAngle": -90, "titleAlign": "center", "titleBaseline": "middle"}}
},
"layer": [
{"transform": [{"filter": "datum.p === 'base'"}], "mark": {"type": "line", "filled": true}, "encoding": {"color": {"field": "m", "type": "nominal", "scale": {"domain": ["COVARIANCE","CORRELATION","SVD","two","three","any"], "range": ["#2d2d2d","#555555","#939393","#b3b3b3","#e2e2e2","#ffffff"]}, "legend": null}, "order": {"field": "i", "type": "quantitative"}}},
{"transform": [{"filter": "datum.p === 'three'"}], "mark": {"type": "line", "filled": true}, "encoding": {"color": {"field": "m", "type": "nominal", "scale": {"domain": ["COVARIANCE","CORRELATION","SVD","two","three","any"], "range": ["#2d2d2d","#555555","#939393","#b3b3b3","#e2e2e2","#ffffff"]}, "legend": null}, "order": {"field": "i", "type": "quantitative"}}},
{"transform": [{"filter": "datum.p === 'any'"}], "mark": {"type": "line", "filled": true}, "encoding": {"color": {"field": "m", "type": "nominal", "scale": {"domain": ["COVARIANCE","CORRELATION","SVD","two","three","any"], "range": ["#2d2d2d","#555555","#939393","#b3b3b3","#e2e2e2","#ffffff"]}, "legend": null}, "order": {"field": "i", "type": "quantitative"}}},
{"transform": [{"filter": "datum.p === 'two'"}], "mark": {"type": "line", "filled": true}, "encoding": {"color": {"field": "m", "type": "nominal", "scale": {"domain": ["COVARIANCE","CORRELATION","SVD","two","three","any"], "range": ["#2d2d2d","#555555","#939393","#b3b3b3","#e2e2e2","#ffffff"]}, "legend": null}, "order": {"field": "i", "type": "quantitative"}}},
{"transform": [{"filter": "datum.p === 'cov'"}], "mark": {"type": "line", "filled": true}, "encoding": {"color": {"field": "m", "type": "nominal", "scale": {"domain": ["COVARIANCE","CORRELATION","SVD","two","three","any"], "range": ["#2d2d2d","#555555","#939393","#b3b3b3","#e2e2e2","#ffffff"]}, "legend": null}, "order": {"field": "i", "type": "quantitative"}}},
{"data": {"values": [{"t": "relative activation mean: 5%", "V": 1.0817, "n": 165.7}]}, "mark": {"type": "text", "font": "Liberation Serif", "fontWeight": "bold", "fontSize": 26, "align": "center", "baseline": "alphabetic", "color": "#000"}, "encoding": {"text": {"field": "t", "type": "nominal"}}}
]
},
{
"data": {"name": "ml"},
"encoding": {
"x": {"field": "V", "type": "quantitative", "scale": {"domain": [0, 2.05], "range": [58.5, 347], "nice": false, "zero": false},
"axis": {"orient": "bottom", "offset": -447.3, "values": [0.1, 2], "format": "~g", "domain": false, "ticks": false, "grid": false, "labelFont": "Liberation Serif", "labelFontWeight": "bold", "labelFontSize": 15, "labelColor": "#000", "labelPadding": 26, "labelBaseline": "middle", "labelFlush": false, "labelOverlap": false, "title": "V", "titleFont": "Liberation Serif", "titleFontStyle": "italic", "titleFontWeight": "normal", "titleFontSize": 32, "titleColor": "#000", "titleX": 211, "titleY": 22.3, "titleAlign": "center", "titleBaseline": "middle"}},
"y": {"field": "n", "type": "quantitative", "scale": {"type": "log", "domain": [9, 120], "range": [766.7, 474.3], "nice": false},
"axis": {"orient": "left", "offset": -58.5, "values": [10, 100], "format": "~g", "domain": false, "ticks": false, "grid": false, "labelFont": "Liberation Serif", "labelFontWeight": "bold", "labelFontSize": 15, "labelColor": "#000", "labelPadding": 11.5, "labelOffset": 5, "labelFlush": false, "labelOverlap": false, "title": "# of images", "titleFont": "Liberation Serif", "titleFontWeight": "bold", "titleFontSize": 17, "titleColor": "#000", "titleX": -23.5, "titleY": 557, "titleAngle": -90, "titleAlign": "center", "titleBaseline": "middle"}}
},
"layer": [
{"transform": [{"filter": "datum.p === 'base'"}], "mark": {"type": "line", "filled": true}, "encoding": {"color": {"field": "m", "type": "nominal", "scale": {"domain": ["COVARIANCE","CORRELATION","SVD","two","three","any"], "range": ["#2d2d2d","#555555","#939393","#b3b3b3","#e2e2e2","#ffffff"]}, "legend": null}, "order": {"field": "i", "type": "quantitative"}}},
{"transform": [{"filter": "datum.p === 'cov'"}], "mark": {"type": "line", "filled": true}, "encoding": {"color": {"field": "m", "type": "nominal", "scale": {"domain": ["COVARIANCE","CORRELATION","SVD","two","three","any"], "range": ["#2d2d2d","#555555","#939393","#b3b3b3","#e2e2e2","#ffffff"]}, "legend": null}, "order": {"field": "i", "type": "quantitative"}}},
{"transform": [{"filter": "datum.p === 'corr'"}], "mark": {"type": "line", "filled": true}, "encoding": {"color": {"field": "m", "type": "nominal", "scale": {"domain": ["COVARIANCE","CORRELATION","SVD","two","three","any"], "range": ["#2d2d2d","#555555","#939393","#b3b3b3","#e2e2e2","#ffffff"]}, "legend": null}, "order": {"field": "i", "type": "quantitative"}}},
{"data": {"values": [{"t": "ρ=0.5", "V": 3.4925, "n": 144.9}]}, "mark": {"type": "text", "font": "Liberation Serif", "fontWeight": "bold", "fontSize": 26, "align": "left", "baseline": "alphabetic", "color": "#000"}, "encoding": {"text": {"field": "t", "type": "nominal"}}}
]
},
{
"data": {"name": "mr"},
"encoding": {
"x": {"field": "V", "type": "quantitative", "scale": {"domain": [0, 2.05], "range": [784, 1073], "nice": false, "zero": false},
"axis": {"orient": "bottom", "offset": -447.3, "values": [0.1, 2], "format": "~g", "domain": false, "ticks": false, "grid": false, "labelFont": "Liberation Serif", "labelFontWeight": "bold", "labelFontSize": 15, "labelColor": "#000", "labelPadding": 33.5, "labelBaseline": "middle", "labelFlush": false, "labelOverlap": false, "title": "V", "titleFont": "Liberation Serif", "titleFontStyle": "italic", "titleFontWeight": "normal", "titleFontSize": 32, "titleColor": "#000", "titleX": 913, "titleY": 29.3, "titleAlign": "center", "titleBaseline": "middle"}},
"y": {"field": "n", "type": "quantitative", "scale": {"type": "log", "domain": [9, 120], "range": [766.7, 474.3], "nice": false},
"axis": {"orient": "left", "offset": -784, "values": [10, 100], "format": "~g", "domain": false, "ticks": false, "grid": false, "labelFont": "Liberation Serif", "labelFontWeight": "bold", "labelFontSize": 15, "labelColor": "#000", "labelPadding": 10, "labelOffset": 4, "labelFlush": false, "labelOverlap": false, "title": "# of images", "titleFont": "Liberation Serif", "titleFontWeight": "bold", "titleFontSize": 17, "titleColor": "#000", "titleX": -30, "titleY": 559, "titleAngle": -90, "titleAlign": "center", "titleBaseline": "middle"}}
},
"layer": [
{"transform": [{"filter": "datum.p === 'base'"}], "mark": {"type": "line", "filled": true}, "encoding": {"color": {"field": "m", "type": "nominal", "scale": {"domain": ["COVARIANCE","CORRELATION","SVD","two","three","any"], "range": ["#2d2d2d","#555555","#939393","#b3b3b3","#e2e2e2","#ffffff"]}, "legend": null}, "order": {"field": "i", "type": "quantitative"}}},
{"transform": [{"filter": "datum.p === 'three'"}], "mark": {"type": "line", "filled": true}, "encoding": {"color": {"field": "m", "type": "nominal", "scale": {"domain": ["COVARIANCE","CORRELATION","SVD","two","three","any"], "range": ["#2d2d2d","#555555","#939393","#b3b3b3","#e2e2e2","#ffffff"]}, "legend": null}, "order": {"field": "i", "type": "quantitative"}}},
{"transform": [{"filter": "datum.p === 'any'"}], "mark": {"type": "line", "filled": true}, "encoding": {"color": {"field": "m", "type": "nominal", "scale": {"domain": ["COVARIANCE","CORRELATION","SVD","two","three","any"], "range": ["#2d2d2d","#555555","#939393","#b3b3b3","#e2e2e2","#ffffff"]}, "legend": null}, "order": {"field": "i", "type": "quantitative"}}},
{"transform": [{"filter": "datum.p === 'two'"}], "mark": {"type": "line", "filled": true}, "encoding": {"color": {"field": "m", "type": "nominal", "scale": {"domain": ["COVARIANCE","CORRELATION","SVD","two","three","any"], "range": ["#2d2d2d","#555555","#939393","#b3b3b3","#e2e2e2","#ffffff"]}, "legend": null}, "order": {"field": "i", "type": "quantitative"}}},
{"transform": [{"filter": "datum.p === 'cov'"}], "mark": {"type": "line", "filled": true}, "encoding": {"color": {"field": "m", "type": "nominal", "scale": {"domain": ["COVARIANCE","CORRELATION","SVD","two","three","any"], "range": ["#2d2d2d","#555555","#939393","#b3b3b3","#e2e2e2","#ffffff"]}, "legend": null}, "order": {"field": "i", "type": "quantitative"}}},
{"data": {"values": [{"t": "ANY", "V": 1.3336, "n": 74.8}]}, "mark": {"type": "text", "font": "Liberation Serif", "fontSize": 16, "align": "center", "baseline": "middle", "color": "#000"}, "encoding": {"text": {"field": "t", "type": "nominal"}}}
]
},
{
"data": {"name": "bl"},
"encoding": {
"x": {"field": "V", "type": "quantitative", "scale": {"domain": [0, 2.05], "range": [58.5, 347], "nice": false, "zero": false},
"axis": {"orient": "bottom", "offset": -77.7, "values": [0.1, 2], "format": "~g", "domain": false, "ticks": false, "grid": false, "labelFont": "Liberation Serif", "labelFontWeight": "bold", "labelFontSize": 15, "labelColor": "#000", "labelPadding": 18, "labelBaseline": "middle", "labelFlush": false, "labelOverlap": false, "title": "V", "titleFont": "Liberation Serif", "titleFontStyle": "italic", "titleFontWeight": "normal", "titleFontSize": 32, "titleColor": "#000", "titleX": 188, "titleY": 22, "titleAlign": "center", "titleBaseline": "middle"}},
"y": {"field": "n", "type": "quantitative", "scale": {"type": "log", "domain": [9, 120], "range": [1136.3, 843.8], "nice": false},
"axis": {"orient": "left", "offset": -58.5, "values": [10, 100], "format": "~g", "domain": false, "ticks": false, "grid": false, "labelFont": "Liberation Serif", "labelFontWeight": "bold", "labelFontSize": 15, "labelColor": "#000", "labelPadding": 11.5, "labelOffset": 1, "labelFlush": false, "labelOverlap": false, "title": "# of images", "titleFont": "Liberation Serif", "titleFontWeight": "bold", "titleFontSize": 17, "titleColor": "#000", "titleX": -23.5, "titleY": 920, "titleAngle": -90, "titleAlign": "center", "titleBaseline": "middle"}}
},
"layer": [
{"transform": [{"filter": "datum.p === 'base'"}], "mark": {"type": "line", "filled": true}, "encoding": {"color": {"field": "m", "type": "nominal", "scale": {"domain": ["COVARIANCE","CORRELATION","SVD","two","three","any"], "range": ["#2d2d2d","#555555","#939393","#b3b3b3","#e2e2e2","#ffffff"]}, "legend": null}, "order": {"field": "i", "type": "quantitative"}}},
{"transform": [{"filter": "datum.p === 'two'"}], "mark": {"type": "line", "filled": true}, "encoding": {"color": {"field": "m", "type": "nominal", "scale": {"domain": ["COVARIANCE","CORRELATION","SVD","two","three","any"], "range": ["#2d2d2d","#555555","#939393","#b3b3b3","#e2e2e2","#ffffff"]}, "legend": null}, "order": {"field": "i", "type": "quantitative"}}},
{"transform": [{"filter": "datum.p === 'any'"}], "mark": {"type": "line", "filled": true}, "encoding": {"color": {"field": "m", "type": "nominal", "scale": {"domain": ["COVARIANCE","CORRELATION","SVD","two","three","any"], "range": ["#2d2d2d","#555555","#939393","#b3b3b3","#e2e2e2","#ffffff"]}, "legend": null}, "order": {"field": "i", "type": "quantitative"}}},
{"transform": [{"filter": "datum.p === 'corr'"}], "mark": {"type": "line", "filled": true}, "encoding": {"color": {"field": "m", "type": "nominal", "scale": {"domain": ["COVARIANCE","CORRELATION","SVD","two","three","any"], "range": ["#2d2d2d","#555555","#939393","#b3b3b3","#e2e2e2","#ffffff"]}, "legend": null}, "order": {"field": "i", "type": "quantitative"}}},
{"data": {"values": [{"t": "ρ=0.99", "V": 3.4925, "n": 140.5}]}, "mark": {"type": "text", "font": "Liberation Serif", "fontWeight": "bold", "fontSize": 26, "align": "left", "baseline": "alphabetic", "color": "#000"}, "encoding": {"text": {"field": "t", "type": "nominal"}}}
]
},
{
"data": {"name": "br"},
"encoding": {
"x": {"field": "V", "type": "quantitative", "scale": {"domain": [0, 2.05], "range": [784, 1073], "nice": false, "zero": false},
"axis": {"orient": "bottom", "offset": -77.7, "values": [0.1, 2], "format": "~g", "domain": false, "ticks": false, "grid": false, "labelFont": "Liberation Serif", "labelFontWeight": "bold", "labelFontSize": 15, "labelColor": "#000", "labelPadding": 35, "labelBaseline": "middle", "labelFlush": false, "labelOverlap": false, "title": "V", "titleFont": "Liberation Serif", "titleFontStyle": "italic", "titleFontWeight": "normal", "titleFontSize": 32, "titleColor": "#000", "titleX": 913, "titleY": 27.3, "titleAlign": "center", "titleBaseline": "middle"}},
"y": {"field": "n", "type": "quantitative", "scale": {"type": "log", "domain": [9, 120], "range": [1136.3, 843.8], "nice": false},
"axis": {"orient": "left", "offset": -784, "values": [10, 100], "format": "~g", "domain": false, "ticks": false, "grid": false, "labelFont": "Liberation Serif", "labelFontWeight": "bold", "labelFontSize": 15, "labelColor": "#000", "labelPadding": 10, "labelOffset": 7, "labelFlush": false, "labelOverlap": false, "title": "# of images", "titleFont": "Liberation Serif", "titleFontWeight": "bold", "titleFontSize": 17, "titleColor": "#000", "titleX": -30, "titleY": 941, "titleAngle": -90, "titleAlign": "center", "titleBaseline": "middle"}}
},
"layer": [
{"transform": [{"filter": "datum.p === 'base'"}], "mark": {"type": "line", "filled": true}, "encoding": {"color": {"field": "m", "type": "nominal", "scale": {"domain": ["COVARIANCE","CORRELATION","SVD","two","three","any"], "range": ["#2d2d2d","#555555","#939393","#b3b3b3","#e2e2e2","#ffffff"]}, "legend": null}, "order": {"field": "i", "type": "quantitative"}}},
{"transform": [{"filter": "datum.p === 'three'"}], "mark": {"type": "line", "filled": true}, "encoding": {"color": {"field": "m", "type": "nominal", "scale": {"domain": ["COVARIANCE","CORRELATION","SVD","two","three","any"], "range": ["#2d2d2d","#555555","#939393","#b3b3b3","#e2e2e2","#ffffff"]}, "legend": null}, "order": {"field": "i", "type": "quantitative"}}},
{"transform": [{"filter": "datum.p === 'any'"}], "mark": {"type": "line", "filled": true}, "encoding": {"color": {"field": "m", "type": "nominal", "scale": {"domain": ["COVARIANCE","CORRELATION","SVD","two","three","any"], "range": ["#2d2d2d","#555555","#939393","#b3b3b3","#e2e2e2","#ffffff"]}, "legend": null}, "order": {"field": "i", "type": "quantitative"}}},
{"transform": [{"filter": "datum.p === 'svd'"}], "mark": {"type": "line", "filled": true}, "encoding": {"color": {"field": "m", "type": "nominal", "scale": {"domain": ["COVARIANCE","CORRELATION","SVD","two","three","any"], "range": ["#2d2d2d","#555555","#939393","#b3b3b3","#e2e2e2","#ffffff"]}, "legend": null}, "order": {"field": "i", "type": "quantitative"}}},
{"transform": [{"filter": "datum.p === 'corr'"}], "mark": {"type": "line", "filled": true}, "encoding": {"color": {"field": "m", "type": "nominal", "scale": {"domain": ["COVARIANCE","CORRELATION","SVD","two","three","any"], "range": ["#2d2d2d","#555555","#939393","#b3b3b3","#e2e2e2","#ffffff"]}, "legend": null}, "order": {"field": "i", "type": "quantitative"}}},
{"data": {"values": [{"t": "ANY", "V": 1.3385, "n": 61.4}]}, "mark": {"type": "text", "font": "Liberation Serif", "fontSize": 16, "align": "center", "baseline": "middle", "color": "#000"}, "encoding": {"text": {"field": "t", "type": "nominal"}}}
]
},
{
"layer": [
{"data": {"name": "sw"}, "transform": [{"filter": "datum.g === 'tl'"}], "mark": {"type": "rect", "strokeWidth": 1.5},
"encoding": {"x": {"datum": 0, "type": "quantitative", "scale": {"domain": [0, 1], "range": [350.5, 369.8], "nice": false, "zero": false}, "axis": null}, "x2": {"datum": 1}, "y": {"field": "f0", "type": "quantitative", "scale": {"domain": [0, 1], "range": [105.3, 396.5], "nice": false, "zero": false}, "axis": null}, "y2": {"field": "f1"}, "color": {"field": "m", "type": "nominal", "scale": {"domain": ["COVARIANCE","CORRELATION","SVD","two","three","any"], "range": ["#2d2d2d","#555555","#939393","#b3b3b3","#e2e2e2","#ffffff"]}, "legend": null}, "stroke": {"condition": {"test": "datum.m === 'any'", "value": "#707070"}, "value": "transparent"}}},
{"data": {"name": "tx"}, "transform": [{"filter": "datum.g === 'tl'"}], "mark": {"type": "text", "align": "left", "baseline": "middle", "font": "Liberation Serif", "fontSize": 16, "color": "#000"},
"encoding": {"x": {"datum": 1.477, "type": "quantitative", "scale": {"domain": [0, 1], "range": [350.5, 369.8], "nice": false, "zero": false}, "axis": null}, "y": {"field": "pos", "type": "quantitative", "scale": {"domain": [0, 1], "range": [105.3, 396.5], "nice": false, "zero": false}, "axis": null}, "text": {"field": "label", "type": "nominal"}}}
]
},
{
"layer": [
{"data": {"name": "sw"}, "transform": [{"filter": "datum.g === 'tr'"}], "mark": {"type": "rect", "strokeWidth": 1.5},
"encoding": {"x": {"datum": 0, "type": "quantitative", "scale": {"domain": [0, 1], "range": [1075.3, 1095.3], "nice": false, "zero": false}, "axis": null}, "x2": {"datum": 1}, "y": {"field": "f0", "type": "quantitative", "scale": {"domain": [0, 1], "range": [105.3, 396.5], "nice": false, "zero": false}, "axis": null}, "y2": {"field": "f1"}, "color": {"field": "m", "type": "nominal", "scale": {"domain": ["COVARIANCE","CORRELATION","SVD","two","three","any"], "range": ["#2d2d2d","#555555","#939393","#b3b3b3","#e2e2e2","#ffffff"]}, "legend": null}, "stroke": {"condition": {"test": "datum.m === 'any'", "value": "#707070"}, "value": "transparent"}}},
{"data": {"name": "tx"}, "transform": [{"filter": "datum.g === 'tr'"}], "mark": {"type": "text", "align": "left", "baseline": "middle", "font": "Liberation Serif", "fontSize": 16, "color": "#000"},
"encoding": {"x": {"datum": 1.7, "type": "quantitative", "scale": {"domain": [0, 1], "range": [1075.3, 1095.3], "nice": false, "zero": false}, "axis": null}, "y": {"field": "pos", "type": "quantitative", "scale": {"domain": [0, 1], "range": [105.3, 396.5], "nice": false, "zero": false}, "axis": null}, "text": {"field": "label", "type": "nominal"}}}
]
},
{
"layer": [
{"data": {"name": "sw"}, "transform": [{"filter": "datum.g === 'ml'"}], "mark": {"type": "rect", "strokeWidth": 1.5},
"encoding": {"x": {"datum": 0, "type": "quantitative", "scale": {"domain": [0, 1], "range": [350.5, 369.8], "nice": false, "zero": false}, "axis": null}, "x2": {"datum": 1}, "y": {"field": "f0", "type": "quantitative", "scale": {"domain": [0, 1], "range": [474.3, 766.7], "nice": false, "zero": false}, "axis": null}, "y2": {"field": "f1"}, "color": {"field": "m", "type": "nominal", "scale": {"domain": ["COVARIANCE","CORRELATION","SVD","two","three","any"], "range": ["#2d2d2d","#555555","#939393","#b3b3b3","#e2e2e2","#ffffff"]}, "legend": null}, "stroke": {"condition": {"test": "datum.m === 'any'", "value": "#707070"}, "value": "transparent"}}},
{"data": {"name": "tx"}, "transform": [{"filter": "datum.g === 'ml'"}], "mark": {"type": "text", "align": "left", "baseline": "middle", "font": "Liberation Serif", "fontSize": 16, "color": "#000"},
"encoding": {"x": {"datum": 1.477, "type": "quantitative", "scale": {"domain": [0, 1], "range": [350.5, 369.8], "nice": false, "zero": false}, "axis": null}, "y": {"field": "pos", "type": "quantitative", "scale": {"domain": [0, 1], "range": [474.3, 766.7], "nice": false, "zero": false}, "axis": null}, "text": {"field": "label", "type": "nominal"}}}
]
},
{
"layer": [
{"data": {"name": "sw"}, "transform": [{"filter": "datum.g === 'mr'"}], "mark": {"type": "rect", "strokeWidth": 1.5},
"encoding": {"x": {"datum": 0, "type": "quantitative", "scale": {"domain": [0, 1], "range": [1075.6, 1096.2], "nice": false, "zero": false}, "axis": null}, "x2": {"datum": 1}, "y": {"field": "f0", "type": "quantitative", "scale": {"domain": [0, 1], "range": [474.3, 766.7], "nice": false, "zero": false}, "axis": null}, "y2": {"field": "f1"}, "color": {"field": "m", "type": "nominal", "scale": {"domain": ["COVARIANCE","CORRELATION","SVD","two","three","any"], "range": ["#2d2d2d","#555555","#939393","#b3b3b3","#e2e2e2","#ffffff"]}, "legend": null}, "stroke": {"condition": {"test": "datum.m === 'any'", "value": "#707070"}, "value": "transparent"}}},
{"data": {"name": "tx"}, "transform": [{"filter": "datum.g === 'mr'"}], "mark": {"type": "text", "align": "left", "baseline": "middle", "font": "Liberation Serif", "fontSize": 16, "color": "#000"},
"encoding": {"x": {"datum": 1.57, "type": "quantitative", "scale": {"domain": [0, 1], "range": [1075.6, 1096.2], "nice": false, "zero": false}, "axis": null}, "y": {"field": "pos", "type": "quantitative", "scale": {"domain": [0, 1], "range": [474.3, 766.7], "nice": false, "zero": false}, "axis": null}, "text": {"field": "label", "type": "nominal"}}}
]
},
{
"layer": [
{"data": {"name": "sw"}, "transform": [{"filter": "datum.g === 'bl'"}], "mark": {"type": "rect", "strokeWidth": 1.5},
"encoding": {"x": {"datum": 0, "type": "quantitative", "scale": {"domain": [0, 1], "range": [349.3, 368.7], "nice": false, "zero": false}, "axis": null}, "x2": {"datum": 1}, "y": {"field": "f0", "type": "quantitative", "scale": {"domain": [0, 1], "range": [843.8, 1136.3], "nice": false, "zero": false}, "axis": null}, "y2": {"field": "f1"}, "color": {"field": "m", "type": "nominal", "scale": {"domain": ["COVARIANCE","CORRELATION","SVD","two","three","any"], "range": ["#2d2d2d","#555555","#939393","#b3b3b3","#e2e2e2","#ffffff"]}, "legend": null}, "stroke": {"condition": {"test": "datum.m === 'any'", "value": "#707070"}, "value": "transparent"}}},
{"data": {"name": "tx"}, "transform": [{"filter": "datum.g === 'bl'"}], "mark": {"type": "text", "align": "left", "baseline": "middle", "font": "Liberation Serif", "fontSize": 16, "color": "#000"},
"encoding": {"x": {"datum": 1.376, "type": "quantitative", "scale": {"domain": [0, 1], "range": [349.3, 368.7], "nice": false, "zero": false}, "axis": null}, "y": {"field": "pos", "type": "quantitative", "scale": {"domain": [0, 1], "range": [843.8, 1136.3], "nice": false, "zero": false}, "axis": null}, "text": {"field": "label", "type": "nominal"}}}
]
},
{
"layer": [
{"data": {"name": "sw"}, "transform": [{"filter": "datum.g === 'br'"}], "mark": {"type": "rect", "strokeWidth": 1.5},
"encoding": {"x": {"datum": 0, "type": "quantitative", "scale": {"domain": [0, 1], "range": [1075.6, 1095.3], "nice": false, "zero": false}, "axis": null}, "x2": {"datum": 1}, "y": {"field": "f0", "type": "quantitative", "scale": {"domain": [0, 1], "range": [843.8, 1136.3], "nice": false, "zero": false}, "axis": null}, "y2": {"field": "f1"}, "color": {"field": "m", "type": "nominal", "scale": {"domain": ["COVARIANCE","CORRELATION","SVD","two","three","any"], "range": ["#2d2d2d","#555555","#939393","#b3b3b3","#e2e2e2","#ffffff"]}, "legend": null}, "stroke": {"condition": {"test": "datum.m === 'any'", "value": "#707070"}, "value": "transparent"}}},
{"data": {"name": "tx"}, "transform": [{"filter": "datum.g === 'br'"}], "mark": {"type": "text", "align": "left", "baseline": "middle", "font": "Liberation Serif", "fontSize": 16, "color": "#000"},
"encoding": {"x": {"datum": 1.76, "type": "quantitative", "scale": {"domain": [0, 1], "range": [1075.6, 1095.3], "nice": false, "zero": false}, "axis": null}, "y": {"field": "pos", "type": "quantitative", "scale": {"domain": [0, 1], "range": [843.8, 1136.3], "nice": false, "zero": false}, "axis": null}, "text": {"field": "label", "type": "nominal"}}}
]
}
]
}
